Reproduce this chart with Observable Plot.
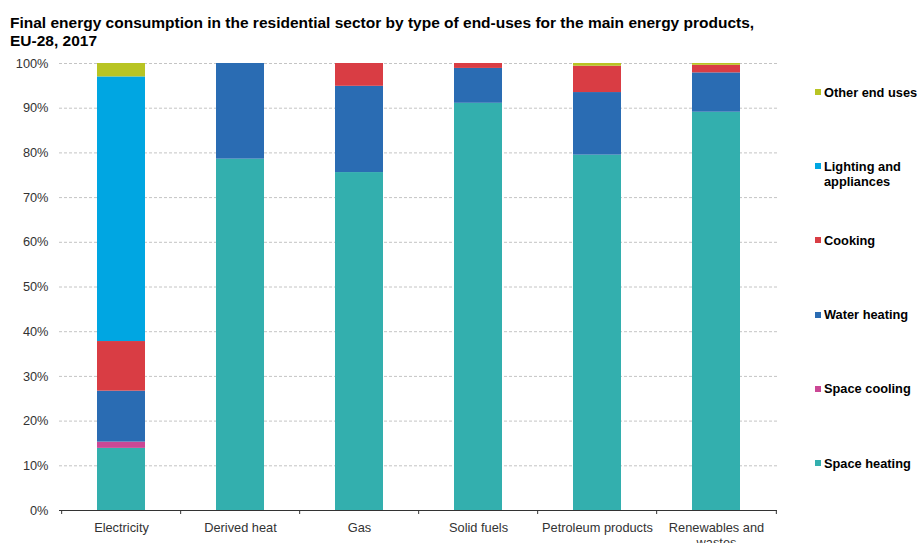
<!DOCTYPE html>
<html>
<head>
<meta charset="utf-8">
<script src="https://cdn.jsdelivr.net/npm/d3@7"></script>
<script src="https://cdn.jsdelivr.net/npm/@observablehq/plot@0.6"></script>
<style>
  body { margin: 0; background: #fff; font-family: "Liberation Sans", Arial, sans-serif; }
  #wrap { position: relative; width: 917px; height: 543px; overflow: hidden; }
  #title { position: absolute; left: 10px; top: 14px; font-weight: bold; font-size: 15.5px; line-height: 17.5px; color: #000; white-space: nowrap; }
  #chart { position: absolute; left: 0; top: 0; }
  .item { position: absolute; left: 815px; font-weight: bold; font-size: 12.8px; line-height: 15px; color: #000; }
  .item .sw { position: absolute; left: 0; top: 4.5px; width: 6px; height: 6px; }
  .item .tx { position: absolute; left: 9px; top: 0; width: 100px; }
</style>
</head>
<body>
<div id="wrap">
  <div id="title">Final energy consumption in the residential sector by type of end-uses for the main energy products,<br>EU-28, 2017</div>
  <div id="chart"></div>
  <div id="legend"></div>
</div>
<script>
// Energy products (x categories) and end-uses (stacked series, bottom to top)
const categories = ["Electricity", "Derived heat", "Gas", "Solid fuels", "Petroleum products", "Renewables and wastes"];
const endUses = ["Space heating", "Space cooling", "Water heating", "Cooking", "Lighting and appliances", "Other end uses"];
const useColors = ["#33afae", "#cb4795", "#2a6cb3", "#d93d44", "#00a6e2", "#b8c423"];

// Share of each end-use in the product's residential consumption (%)
const spaceHeating = [13.9, 78.6, 75.6, 91.1, 79.5, 89.1];
const spaceCooling = [1.4, 0, 0, 0, 0, 0];
const waterHeating = [11.4, 21.4, 19.3, 7.8, 14.0, 8.8];
const cooking      = [11.1, 0, 5.1, 1.1, 5.9, 1.7];
const lighting     = [59.2, 0, 0, 0, 0, 0];
const otherUses    = [3.0, 0, 0, 0, 0.6, 0.4];

const yTicks = [0, 10, 20, 30, 40, 50, 60, 70, 80, 90, 100];

const series = [spaceHeating, spaceCooling, waterHeating, cooking, lighting, otherUses];
const rows = endUses.flatMap((use, s) =>
  categories.map((category, i) => ({category, use, value: series[s][i]}))
);

const W = 917, H = 543;
const margin = {top: 63, right: 140, bottom: 33, left: 59};
const halfStep = (W - margin.left - margin.right) / categories.length / 2;

const chart = Plot.plot({
  width: W,
  height: H,
  marginTop: margin.top,
  marginRight: margin.right,
  marginBottom: margin.bottom,
  marginLeft: margin.left,
  style: {fontFamily: "'Liberation Sans', Arial, sans-serif", fontSize: "12.8px", color: "#333", background: "transparent", overflow: "visible"},
  x: {domain: categories, paddingInner: 0.6, paddingOuter: 0.3, label: null},
  y: {domain: [0, 100], label: null},
  color: {domain: endUses, range: useColors},
  marks: [
    Plot.gridY(yTicks, {stroke: "#c4c4c4", strokeOpacity: 1, strokeDasharray: "3,2"}),
    Plot.barY(rows, {x: "category", y: "value", fill: "use", order: endUses}),
    Plot.ruleY([0], {stroke: "#333"}),
    // category separators on the x axis
    Plot.ruleX(categories, {x: d => d, y1: 0, y2: 0, dx: -halfStep, insetBottom: -4, stroke: "#333"}),
    Plot.ruleX(categories.slice(-1), {x: d => d, y1: 0, y2: 0, dx: halfStep, insetBottom: -4, stroke: "#333"}),
    Plot.axisY(yTicks, {tickSize: 0, tickPadding: 11, tickFormat: d => d + "%", fill: "#333"}),
    Plot.axisX({tickSize: 0, tickPadding: 11, lineWidth: 10.6, lineHeight: 1.15, fill: "#333"})
  ]
});
document.getElementById("chart").appendChild(chart);

// Legend, listed top to bottom in reverse stacking order
const legend = document.getElementById("legend");
const legendTop = 84.5, legendStep = 74.2;
endUses.slice().reverse().forEach((use, k) => {
  const item = document.createElement("div");
  item.className = "item";
  item.style.top = (legendTop + k * legendStep) + "px";
  const sw = document.createElement("div");
  sw.className = "sw";
  sw.style.background = useColors[endUses.indexOf(use)];
  const tx = document.createElement("div");
  tx.className = "tx";
  tx.textContent = use;
  item.appendChild(sw);
  item.appendChild(tx);
  legend.appendChild(item);
});
</script>
</body>
</html>
